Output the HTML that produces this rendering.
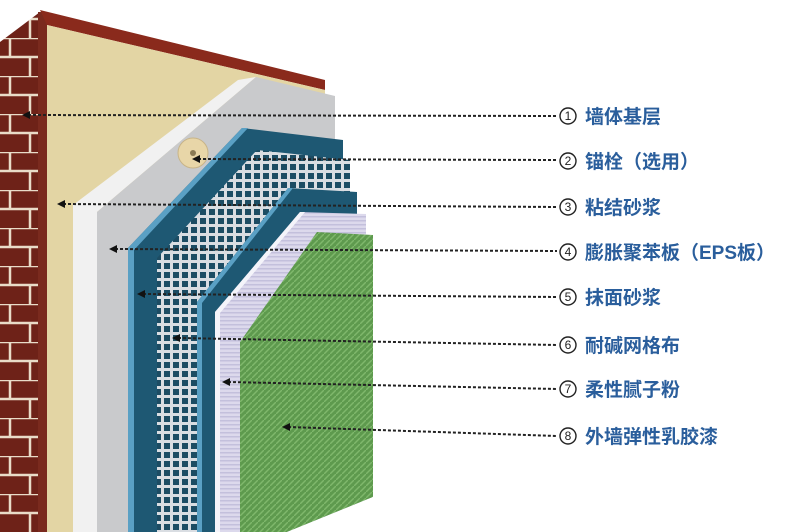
<!DOCTYPE html>
<html><head><meta charset="utf-8"><style>
html,body{margin:0;padding:0;background:#fff;}
svg{display:block;}
.t{font-family:"Liberation Sans","Noto Sans CJK SC",sans-serif;font-size:19px;fill:#2a5e9c;font-weight:bold;}
.n{font-family:"Liberation Sans",sans-serif;font-size:12px;fill:#222;text-anchor:middle;}
</style></head><body>
<svg width="800" height="532" viewBox="0 0 800 532" xmlns="http://www.w3.org/2000/svg">
<defs>
<pattern id="brick" width="40" height="38" patternUnits="userSpaceOnUse">
<rect width="40" height="38" fill="#6e2218"/>
<path d="M0 0H40M0 19H40M10 0V19M30 19V38" stroke="#e9dcc8" stroke-width="2.5"/>
</pattern>
<pattern id="mesh" width="9" height="9" patternUnits="userSpaceOnUse">
<rect width="9" height="9" fill="#d9dde2"/>
<rect x="2" y="2" width="6" height="6" fill="#1c4c63"/>
</pattern>
<pattern id="lav" width="4" height="4" patternUnits="userSpaceOnUse">
<rect width="4" height="4" fill="#dcd9ec"/>
<rect width="4" height="1.5" fill="#c3c0dc"/>
</pattern>
<pattern id="grn" width="6" height="6" patternUnits="userSpaceOnUse">
<rect width="6" height="6" fill="#5e9a4e"/>
<path d="M0 6L6 0" stroke="#7fb86c" stroke-width="1.4"/>
</pattern>
</defs>
<polygon points="0,42 40,12 47,12 47,532 0,532" fill="url(#brick)"/>
<polygon points="38,12 47,12 47,532 38,532" fill="#7a2a1e"/>
<polygon points="40,10 325,80 325,90 47,25" fill="#8a2a1c"/>
<polygon points="47,25 325,90 325,532 47,532" fill="#e3d5a4"/>
<polygon points="73,205 238,80 256,77 97,212 97,532 73,532" fill="#f1f1f1"/>
<polygon points="97,212 256,77 335,96 335,532 97,532" fill="#c9cacc"/>
<circle cx="193" cy="153" r="15" fill="#e8d6a8" stroke="#c8b488" stroke-width="1"/>
<circle cx="193" cy="153" r="3" fill="#8a7a55"/>
<polygon points="128,248 242,128 343,140 343,532 128,532" fill="#1e5873"/>
<polygon points="128,248 242,128 248,128 134,250 134,532 128,532" fill="#5aa0c4"/>
<polygon points="157,258 257,150 350,160 350,532 157,532" fill="url(#mesh)"/>
<polygon points="197,302 288,188 357,192 357,532 197,532" fill="#1e5873"/>
<polygon points="197,302 288,188 293,188 202,303 202,532 197,532" fill="#5aa0c4"/>
<polygon points="215,312 300,212 366,214 366,532 215,532" fill="url(#lav)"/>
<polygon points="215,312 300,212 305,212 220,313 220,532 215,532" fill="#f4f4fa"/>
<polygon points="240,342 317,232 373,235 373,497 287,532 240,532" fill="url(#grn)"/>
<polygon points="287,532 373,497 420,478 420,532" fill="#fff"/>
<g stroke="#222" stroke-width="2" stroke-dasharray="3,2" fill="none">
<line x1="28" y1="115" x2="557" y2="116"/>
<line x1="198" y1="159" x2="557" y2="160"/>
<line x1="63" y1="204" x2="557" y2="207"/>
<line x1="115" y1="249" x2="557" y2="251"/>
<line x1="143" y1="294" x2="557" y2="297"/>
<line x1="178" y1="338" x2="557" y2="345"/>
<line x1="228" y1="382" x2="557" y2="389"/>
<line x1="288" y1="427" x2="557" y2="436"/>
</g>
<g fill="#111">
<polygon points="22,115 30,111 30,119"/>
<polygon points="192,159 200,155 200,163"/>
<polygon points="57,204 65,200 65,208"/>
<polygon points="109,249 117,245 117,253"/>
<polygon points="137,294 145,290 145,298"/>
<polygon points="172,338 180,334 180,342"/>
<polygon points="222,382 230,378 230,386"/>
<polygon points="282,427 290,423 290,431"/>
</g>
<g fill="#fff" stroke="#222" stroke-width="1.4">
<circle cx="568" cy="116" r="8"/><circle cx="568" cy="161" r="8"/><circle cx="568" cy="207" r="8"/><circle cx="568" cy="252" r="8"/>
<circle cx="568" cy="297" r="8"/><circle cx="568" cy="345" r="8"/><circle cx="568" cy="389" r="8"/><circle cx="568" cy="436" r="8"/>
</g>
<text class="n" x="568" y="120">1</text><text class="n" x="568" y="165">2</text><text class="n" x="568" y="211">3</text><text class="n" x="568" y="256">4</text>
<text class="n" x="568" y="301">5</text><text class="n" x="568" y="349">6</text><text class="n" x="568" y="393">7</text><text class="n" x="568" y="440">8</text>
<text class="t" x="585" y="123">墙体基层</text>
<text class="t" x="585" y="168">锚栓（选用）</text>
<text class="t" x="585" y="214">粘结砂浆</text>
<text class="t" x="585" y="259">膨胀聚苯板（EPS板）</text>
<text class="t" x="585" y="304">抹面砂浆</text>
<text class="t" x="585" y="352">耐碱网格布</text>
<text class="t" x="585" y="396">柔性腻子粉</text>
<text class="t" x="585" y="443">外墙弹性乳胶漆</text>
</svg>
</body></html>
